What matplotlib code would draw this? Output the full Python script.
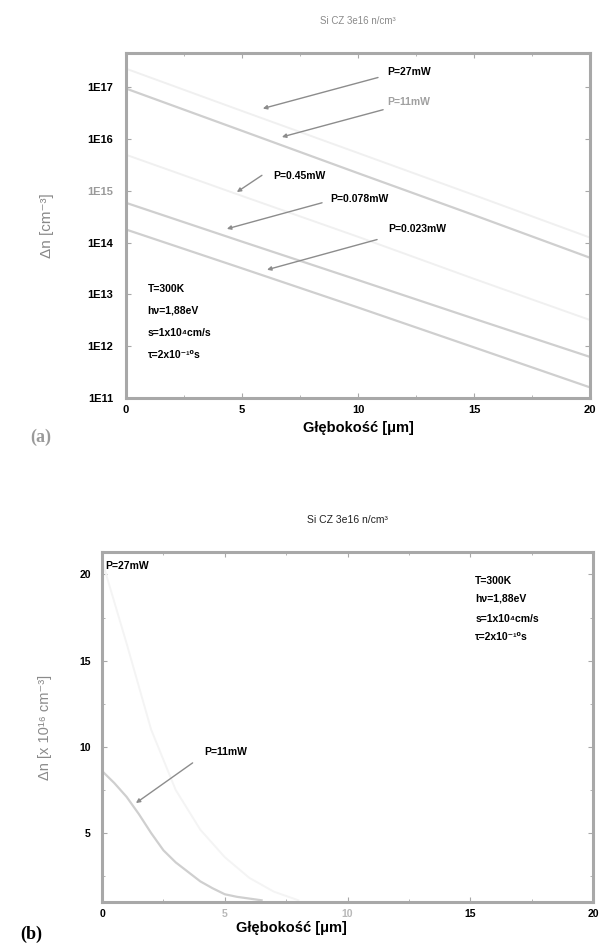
import numpy as np
import matplotlib
matplotlib.use("Agg")
import matplotlib.pyplot as plt
from matplotlib.ticker import FixedLocator, MultipleLocator

plt.rcParams['font.family'] = ['Liberation Sans', 'DejaVu Sans']

# ---- panel (a): log-scale depth profiles, one per laser power ----
depth_a = [0, 5, 10, 15, 20]                       # um
dn_27mW = [2.3e17, 3.5e16, 5.4e15, 8.3e14, 1.25e14]  # faint in scan
dn_11mW = [9.5e16, 1.45e16, 2.2e15, 3.4e14, 5.1e13]
dn_045mW = [5.0e15, 8.0e14, 1.3e14, 2.0e13, 3.2e12]  # faint in scan
dn_0078mW = [5.9e14, 1.05e14, 1.9e13, 3.4e12, 6.2e11]
dn_0023mW = [1.8e14, 3.2e13, 5.6e12, 9.5e11, 1.6e11]

ytick_a = [1e11, 1e12, 1e13, 1e14, 1e15, 1e16, 1e17]
ytick_a_lbl = ["1E11", "1E12", "1E13", "1E14", "1E15", "1E16", "1E17"]

# ---- panel (b): linear-scale profile ----
depth_b = [0, 0.5, 1.0, 1.5, 2.0, 2.5, 3.0, 3.5, 4.0, 4.5, 5.0, 5.5, 6.0, 6.5]
dn_b_11mW = [8.6, 7.9, 7.1, 6.1, 5.0, 4.0, 3.3, 2.75, 2.2, 1.8, 1.45, 1.3, 1.2, 1.1]
depth_b27 = [0, 1, 2, 3, 4, 5, 6, 7, 8]
dn_b_27mW = [20.8, 16.0, 11.0, 7.5, 5.2, 3.6, 2.4, 1.6, 1.1]  # barely visible in scan

params = ["T=300K", "hν=1,88eV", "s=1x10⁴cm/s", "τ=2x10⁻¹⁰s"]

AX = "#a8a8a8"
LINE = "#cfcfcf"
FAINT = "#f0f0f0"
ARR = "#8c8c8c"

fig = plt.figure(figsize=(6.11, 9.47), dpi=100)

# ===== (a) =====
ax = fig.add_axes([0.206, 0.5797, 0.760, 0.3643])
ax.plot(depth_a, dn_27mW, c=FAINT, lw=1.4)
ax.plot(depth_a, dn_11mW, c=LINE, lw=1.6)
ax.plot(depth_a, dn_045mW, c=FAINT, lw=1.4)
ax.plot(depth_a, dn_0078mW, c=LINE, lw=1.6)
ax.plot(depth_a, dn_0023mW, c=LINE, lw=1.6)
ax.set_yscale("log")
ax.set_xlim(0, 20); ax.set_ylim(1e11, 4.6e17)
ax.yaxis.set_major_locator(FixedLocator(ytick_a))
ax.yaxis.set_minor_locator(FixedLocator([]))
ax.set_yticklabels(ytick_a_lbl)
ax.xaxis.set_major_locator(MultipleLocator(5))
ax.xaxis.set_minor_locator(MultipleLocator(2.5))
ax.tick_params(which="both", direction="in", top=True, right=True, color=AX,
               labelsize=8, pad=5)
ax.tick_params(axis="y", pad=9)
for t in ax.get_yticklabels() + ax.get_xticklabels():
    t.set_fontweight("bold")
ax.get_yticklabels()[4].set_color("#9a9a9a")
ax.get_xticklabels()[0].set_color("#b0b0b0")
for s in ax.spines.values():
    s.set_color(AX); s.set_linewidth(2.2)
ax.set_title("Si CZ 3e16 n/cm³", fontsize=7, color="#8a8a8a", pad=21)
ax.set_xlabel("Głębokość [μm]", fontsize=10.5, fontweight="bold", labelpad=4)
ax.set_ylabel("Δn [cm⁻³]", fontsize=11, color="#888888", labelpad=24)

ann_a = [
    ("P=27mW", (11.25, 2.0e17), (10.86, 1.55e17), (5.9, 3.9e16), "black"),
    ("P=11mW", (11.25, 5.1e16), (11.08, 3.7e16), (6.72, 1.1e16), "#a0a0a0"),
    ("P=0.45mW", (6.34, 1.9e15), (5.86, 2.0e15), (4.78, 9.5e14), "black"),
    ("P=0.078mW", (8.79, 7.0e14), (8.45, 5.9e14), (4.35, 1.85e14), "black"),
    ("P=0.023mW", (11.29, 1.8e14), (10.82, 1.15e14), (6.08, 3.0e13), "black"),
]
for lbl, pos, tail, tip, col in ann_a:
    ax.text(*pos, lbl, fontsize=7.5, fontweight="bold", color=col, va="center")
    ax.annotate("", xy=tip, xytext=tail,
                arrowprops=dict(arrowstyle="-|>", color=ARR, lw=1.0,
                                mutation_scale=6, shrinkA=0, shrinkB=0))
for txt, yy in zip(params, [0.316, 0.255, 0.188, 0.125]):
    ax.text(0.047, yy, txt, transform=ax.transAxes, fontsize=7.5,
            fontweight="bold", va="center")
fig.text(0.049, 0.538, "(a)", fontsize=13, family="Liberation Serif",
         fontweight="bold", color="#9a9a9a", va="center")

# ===== (b) =====
bx = fig.add_axes([0.167, 0.0475, 0.8036, 0.3696])
bx.plot(depth_b27, dn_b_27mW, c="#f4f4f4", lw=1.4)
bx.plot(depth_b, dn_b_11mW, c=LINE, lw=1.6)
bx.set_xlim(0, 20); bx.set_ylim(1.0, 21.3)
bx.xaxis.set_major_locator(MultipleLocator(5))
bx.xaxis.set_minor_locator(MultipleLocator(2.5))
bx.yaxis.set_major_locator(FixedLocator([5, 10, 15, 20]))
bx.yaxis.set_minor_locator(FixedLocator([2.5, 7.5, 12.5, 17.5]))
bx.tick_params(which="both", direction="in", top=True, right=True, color=AX,
               labelsize=7.5, pad=5)
bx.tick_params(axis="y", pad=8)
for t in bx.get_yticklabels() + bx.get_xticklabels():
    t.set_fontweight("bold")
for i in (0, 2, 3):
    bx.get_xticklabels()[i].set_color("#b8b8b8")
for s in bx.spines.values():
    s.set_color(AX); s.set_linewidth(2.2)
bx.set_title("Si CZ 3e16 n/cm³", fontsize=7.5, color="#222222", pad=21)
bx.set_xlabel("Głębokość [μm]", fontsize=10.5, fontweight="bold", labelpad=2)
bx.xaxis.set_label_coords(0.385, -0.055)
bx.set_ylabel("Δn [x 10¹⁶ cm⁻³]", fontsize=10.5, color="#8a8a8a", labelpad=20)
bx.text(0.006, 0.96, "P=27mW", transform=bx.transAxes, fontsize=7.5,
        fontweight="bold", va="center")
bx.text(4.18, 9.71, "P=11mW", fontsize=7.5, fontweight="bold", va="center")
bx.annotate("", xy=(1.38, 6.74), xytext=(3.69, 9.07),
            arrowprops=dict(arrowstyle="-|>", color=ARR, lw=1.0,
                            mutation_scale=6, shrinkA=0, shrinkB=0))
for txt, yy in zip(params, [0.917, 0.866, 0.809, 0.757]):
    bx.text(0.76, yy, txt, transform=bx.transAxes, fontsize=7.5,
            fontweight="bold", va="center")
fig.text(0.033, 0.013, "(b)", fontsize=13, family="Liberation Serif",
         fontweight="bold", color="black", va="center")

fig.savefig("out.png", dpi=100)
